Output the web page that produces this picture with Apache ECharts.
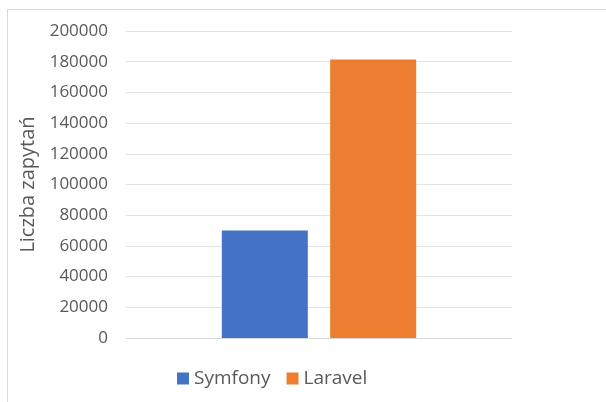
<!DOCTYPE html>
<html lang="pl">
<head>
    <meta charset="UTF-8">
    <title>Liczba zapytań</title>
    <script src="https://cdn.jsdelivr.net/npm/echarts@6/dist/echarts.min.js"></script>
    <style>
        html, body { margin: 0; padding: 0; background: #fff; overflow: hidden; }
        #frame {
            position: absolute;
            left: 7px;
            top: 9px;
            width: 640px;
            height: 420px;
            border: 1px solid #d9d9d9;
        }
        #chart {
            position: absolute;
            left: 0;
            top: 0;
            width: 606px;
            height: 402px;
        }
    </style>
</head>
<body>
    <div id="frame"></div>
    <div id="chart"></div>
    <script>
        const categories = [''];
        const seriesNames = ['Symfony', 'Laravel'];
        const symfonyValues = [70000];
        const laravelValues = [181500];
        const colors = ['#4472c4', '#ed7d31'];

        const chart = echarts.init(document.getElementById('chart'));

        const option = {
            animation: false,
            textStyle: { fontFamily: 'Open Sans' },
            grid: { left: 126, right: 94, top: 31, bottom: 64 },
            legend: {
                data: seriesNames,
                left: 172,
                top: 364,
                itemWidth: 12,
                itemHeight: 12,
                itemGap: 16,
                icon: 'rect',
                textStyle: { fontSize: 19, color: '#595959', fontFamily: 'Open Sans' }
            },
            xAxis: {
                type: 'category',
                data: categories,
                axisLine: { lineStyle: { color: '#d9d9d9' } },
                axisTick: { show: false },
                axisLabel: { show: false }
            },
            yAxis: {
                type: 'value',
                min: 0,
                max: 200000,
                interval: 20000,
                name: 'Liczba zapytań',
                nameLocation: 'middle',
                nameGap: 75,
                nameTextStyle: { fontSize: 20, color: '#595959', fontFamily: 'Open Sans' },
                axisLabel: {
                    fontSize: 17,
                    color: '#595959',
                    margin: 18,
                    formatter: function (v) { return String(v); }
                },
                axisLine: { show: false },
                axisTick: { show: false },
                splitLine: { lineStyle: { color: '#e3e3e3', width: 1 } }
            },
            series: [
                {
                    name: seriesNames[0],
                    type: 'bar',
                    data: symfonyValues,
                    barWidth: 86,
                    barGap: '26%',
                    itemStyle: { color: colors[0] }
                },
                {
                    name: seriesNames[1],
                    type: 'bar',
                    data: laravelValues,
                    barWidth: 86,
                    barGap: '26%',
                    itemStyle: { color: colors[1] }
                }
            ]
        };

        chart.setOption(option);
    </script>
</body>
</html>
